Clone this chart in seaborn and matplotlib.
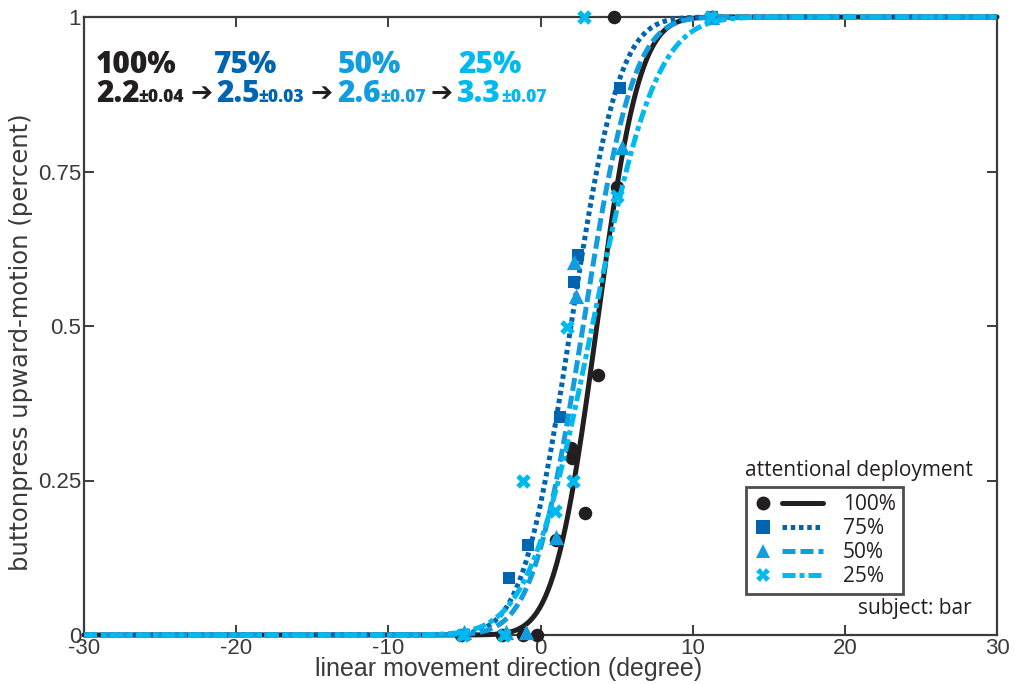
import math
import numpy as np
import pandas as pd
import matplotlib
matplotlib.use("Agg")
import matplotlib.pyplot as plt
import seaborn as sns
from matplotlib.lines import Line2D
from matplotlib.legend_handler import HandlerBase

# ---------------- data ----------------
conditions = ["100%", "75%", "50%", "25%"]
thresholds = [2.2, 2.5, 2.6, 3.3]          # fitted slope (sigma)
threshold_err = ["±0.04", "±0.03", "±0.07", "±0.07"]
centers = [3.7, 2.0, 2.8, 3.4]             # fitted point of subjective equality

x_100 = [-5.2, -2.5, -1.15, -0.2, 1.0, 2.0, 2.1, 2.9, 3.8, 5.0, 4.8, 11.3]
y_100 = [0, 0, 0, 0, 0.154, 0.303, 0.286, 0.197, 0.42, 0.725, 1.0, 1.0]

x_75 = [-5, -2.07, -0.82, 1.28, 2.2, 2.46, 5.23, 11.3]
y_75 = [0, 0.092, 0.146, 0.353, 0.571, 0.615, 0.885, 1]

x_50 = [-5.0, -2.3, -0.95, 1.02, 2.2, 2.33, 5.36, 11.3]
y_50 = [0.005, 0.005, 0.005, 0.159, 0.604, 0.548, 0.79, 1]

x_25 = [-5.1, -2.4, -1.15, 0.95, 1.74, 2.13, 2.86, 5.03, 11.2]
y_25 = [0, 0, 0.249, 0.2, 0.498, 0.249, 1.0, 0.71, 1.0]

x_ticks = [-30, -20, -10, 0, 10, 20, 30]
y_ticks = [0, 0.25, 0.5, 0.75, 1]
y_ticklabels = ["0", "0.25", "0.5", "0.75", "1"]

# ---------------- styling ----------------
colors = ["#231F20", "#0065B1", "#129DDE", "#00BAEF"]
markers = ["o", "s", "^", "X"]
msizes = [95, 70, 120, 110]
dashes = [None, (0.9, 0.75), (2.6, 1.0), (2.6, 0.8, 1.0, 0.8)]
LW = 3.6

sns.set_style("ticks")
plt.rcParams["font.family"] = ["Liberation Sans", "DejaVu Sans"]

fig = plt.figure(figsize=(10.15, 6.84), dpi=100)
W, H = 1015, 684
ax = fig.add_axes([84 / W, 1 - 635 / H, (997 - 84) / W, (635 - 17) / H])

pts = pd.concat([
    pd.DataFrame({"x": x_100, "y": y_100, "cond": "100%"}),
    pd.DataFrame({"x": x_75, "y": y_75, "cond": "75%"}),
    pd.DataFrame({"x": x_50, "y": y_50, "cond": "50%"}),
    pd.DataFrame({"x": x_25, "y": y_25, "cond": "25%"}),
], ignore_index=True)

xs = np.linspace(-30, 30, 1201)
curves = []
for c, mu, sg in zip(conditions, centers, thresholds):
    ys = np.array([0.5 * (1 + math.erf((v - mu) / (sg * math.sqrt(2)))) for v in xs])
    curves.append(pd.DataFrame({"x": xs, "y": ys, "cond": c}))
curves = pd.concat(curves, ignore_index=True)

for i, c in enumerate(conditions):
    sns.scatterplot(data=pts[pts.cond == c], x="x", y="y", color=colors[i],
                    marker=markers[i], s=msizes[i], linewidth=0, ax=ax,
                    zorder=3 + 2 * i, clip_on=False, legend=False)
    sns.lineplot(data=curves[curves.cond == c], x="x", y="y", color=colors[i],
                 lw=LW, ax=ax, zorder=4 + 2 * i, legend=False)
    ln = ax.lines[-1]
    ln.set_clip_on(False)
    if dashes[i] is not None:
        ln.set_dashes(dashes[i])
        ln.set_dash_capstyle("butt")

ax.set_xlim(-30, 30)
ax.set_ylim(0, 1)
ax.set_xticks(x_ticks)
ax.set_xticklabels([str(t) for t in x_ticks])
ax.set_yticks(y_ticks)
ax.set_yticklabels(y_ticklabels)
for s in ax.spines.values():
    s.set_visible(True)
    s.set_color("#3c3c3c")
    s.set_linewidth(1.6)
ax.tick_params(direction="in", length=7, width=1.4, color="#3c3c3c",
               top=True, right=True, labelsize=16, labelcolor="#3a3a3a", pad=2)
ax.set_xlabel("linear movement direction (degree)", fontsize=18, color="#3a3a3a")
ax.set_ylabel("buttonpress upward-motion (percent)", fontsize=17.5, color="#3a3a3a",
              family=["DejaVu Sans"])
ax.xaxis.set_label_coords((509 - 84) / 913, -0.036)
ax.yaxis.set_label_coords((33 - 84) / 913, 0.474)

# ---------------- annotation block ----------------
bold = ["Open Sans", "DejaVu Sans"]
def ftext(px, py, s, **kw):
    fig.text(px / W, 1 - py / H, s, va="baseline", ha="left", **kw)

head_x = [96, 214, 338, 458]
val_x = [96, 216, 337, 457]
err_x = [138, 258, 380, 501]
arrow_x = [190, 310, 431]
for i in range(4):
    ftext(head_x[i], 73, conditions[i], fontsize=21.5, fontweight=800, color=colors[i], family=bold)
    ftext(val_x[i], 102, f"{thresholds[i]:.1f}", fontsize=21.5, fontweight=800, color=colors[i], family=bold)
    ftext(err_x[i], 102, threshold_err[i], fontsize=12.5, fontweight=800, color=colors[i], family=bold)
for ax_ in arrow_x:
    ftext(ax_, 101, "➔", fontsize=19, color="#231F20", family=["DejaVu Sans"])

# ---------------- legend ----------------
class MarkerLineHandler(HandlerBase):
    def create_artists(self, legend, orig_handle, xdescent, ydescent, width, height,
                       fontsize, trans):
        mk, ln = orig_handle
        y = height / 2 - ydescent
        m = Line2D([7.2 - xdescent], [y], ls="none", marker=mk.get_marker(),
                   color=mk.get_color(), markersize=mk.get_markersize(),
                   markeredgewidth=0)
        l = Line2D([21 - xdescent, 50 - xdescent], [y, y], color=ln.get_color(),
                   lw=ln.get_linewidth())
        if getattr(ln, "_dash_pattern_src", None) is not None:
            l.set_dashes(ln._dash_pattern_src)
        l.set_dash_capstyle("butt")
        m.set_transform(trans)
        l.set_transform(trans)
        return [l, m]

handles = []
for i in range(4):
    mk = Line2D([], [], ls="none", marker=markers[i], color=colors[i], markersize=10)
    ln = Line2D([], [], color=colors[i], lw=LW)
    ln._dash_pattern_src = dashes[i]
    handles.append((mk, ln))
leg = ax.legend(handles, conditions, handler_map={tuple: MarkerLineHandler()},
                loc="upper left", bbox_to_anchor=(746 / W, 1 - 487 / H),
                bbox_transform=fig.transFigure, borderaxespad=0, frameon=True,
                fancybox=False, handlelength=50 / 15, handletextpad=0.96,
                borderpad=0.35, labelspacing=0.14, prop={"family": ["Open Sans"], "size": 15})
leg.get_frame().set_edgecolor("#231F20")
leg.get_frame().set_linewidth(2)
for t in leg.get_texts():
    t.set_color("#231F20")
ftext(745, 476, "attentional deployment", fontsize=15, color="#231F20", family=["Open Sans"])
fig.text(972 / W, 1 - 614 / H, "subject: bar", va="baseline", ha="right", fontsize=15,
         color="#231F20", family=["Open Sans"])

fig.savefig("out.png", dpi=100)
